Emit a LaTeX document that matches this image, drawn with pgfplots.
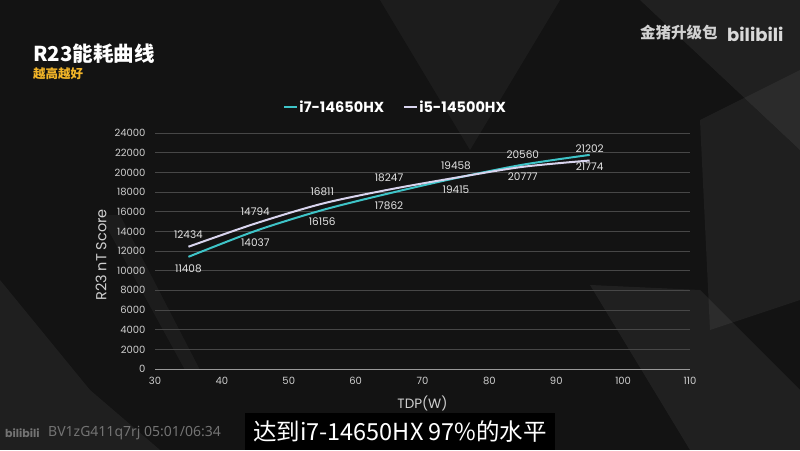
\documentclass[border=0pt]{standalone}
\usepackage{fontspec}
\usepackage{pgfplots}
\pgfplotsset{compat=1.18}
\setmainfont{Poppins}
\newfontfamily\cjk{Noto Sans CJK SC}
\newfontfamily\pop{Poppins}
\newfontfamily\ui{Noto Sans}
\definecolor{bg}{HTML}{131313}
\definecolor{cyanl}{RGB}{62,196,200}
\definecolor{lav}{RGB}{216,212,238}
\definecolor{gridc}{HTML}{474747}
\definecolor{tickc}{HTML}{CFCFCF}
\definecolor{yel}{RGB}{242,180,40}
\definecolor{labc}{HTML}{E4E4E4}
\begin{document}
\begin{tikzpicture}[x=1pt,y=1pt]
% background
\fill[bg] (0,0) rectangle (800,450);
\fill[white,opacity=0.05] (0,0) -- (0,170) -- (90,60) -- (160,0) -- cycle;
\fill[white,opacity=0.04] (100,235) -- (185,80) -- (200,80) -- (120,235) -- cycle;
\fill[white,opacity=0.06] (640,450) -- (800,450) -- (800,300) -- cycle;
\fill[white,opacity=0.05] (700,330) -- (800,380) -- (800,150) -- (710,120) -- cycle;
\fill[white,opacity=0.06] (590,165) -- (700,160) -- (800,60) -- (800,0) -- (690,0) -- cycle;
\fill[white,opacity=0.04] (380,450) -- (560,450) -- (470,300) -- cycle;
% title
\node[anchor=west, inner sep=0, text=white] at (33,396) {\cjk\bfseries\fontsize{20.5}{22}\selectfont R23能耗曲线};
\node[anchor=west, inner sep=0, text=yel] at (33,376) {\cjk\bfseries\fontsize{12.5}{14}\selectfont 越高越好};
% watermark
\node[anchor=west, inner sep=0, text=white!82!black] at (640,417) {\cjk\bfseries\fontsize{15.5}{17}\selectfont 金猪升级包};
\node[anchor=west, inner sep=0, text=white!85!black] at (727,416) {\pop\bfseries\fontsize{18}{20}\selectfont bilibili};
\node[anchor=west, inner sep=0, text=white!45!black] at (5,17) {\pop\bfseries\fontsize{11}{13}\selectfont bilibili};
\node[anchor=west, inner sep=0, text=white!45!black] at (48,17) {\ui\fontsize{14}{16}\selectfont BV1zG411q7rj 05:01/06:34};
% subtitle
\fill[black] (245,0) rectangle (555,37);
\node[anchor=center, inner sep=0, text=white] at (400,18) {\cjk\fontsize{23.5}{25}\selectfont 达到i7-14650HX 97\%的水平};
\begin{axis}[
  at={(155pt,81pt)}, anchor=south west,
  scale only axis, width=535pt, height=236pt,
  xmin=30, xmax=110, ymin=0, ymax=24000,
  xtick={30,40,...,110}, ytick={0,2000,...,24000},
  scaled y ticks=false,
  axis x line*=bottom, axis y line*=left,
  x axis line style={draw=white!60!black, line width=0.8pt, -},
  y axis line style={draw=none},
  ymajorgrids, major grid style={gridc, line width=0.6pt},
  major tick length=0,
  /pgf/number format/1000 sep={},
  /pgf/number format/assume math mode=true,
  ticklabel style={font=\pop\fontsize{10}{12}\selectfont, text=tickc},
  yticklabel style={xshift=-6pt},
  xticklabel style={yshift=-5pt},
  xlabel={TDP(W)},
  ylabel={R23 nT Score},
  xlabel style={at={(axis description cs:0.5,0)}, anchor=center, yshift=-34pt, font=\pop\fontsize{13.5}{15}\selectfont, text=tickc},
  ylabel style={at={(axis description cs:0,0.5)}, anchor=center, yshift=54pt, xshift=-4pt, font=\pop\fontsize{14.5}{16}\selectfont, text=tickc},
  legend columns=2,
  legend style={at={(0.449,1.11)}, anchor=center, draw=none, fill=none, text=white,
    font=\pop\bfseries\fontsize{14.5}{16}\selectfont,
    /tikz/every even column/.append style={column sep=18pt},
    nodes={inner sep=1pt}},
  legend image code/.code={\draw[#1, line width=2pt] (0pt,0pt) -- (13pt,0pt);},
  clip=false,
]
\addplot[cyanl, line width=2pt, smooth,
  nodes near coords,
  every node near coord/.style={anchor=center, yshift=-12pt, text=labc, font=\pop\fontsize{10.5}{12}\selectfont}]
  coordinates {(35,11408) (45,14037) (55,16156) (65,17862) (75,19415) (85,20777) (95,21774)};
\addlegendentry{i7-14650HX}
\addplot[lav, line width=2pt, smooth,
  nodes near coords,
  every node near coord/.style={anchor=center, yshift=12pt, text=labc, font=\pop\fontsize{10.5}{12}\selectfont}]
  coordinates {(35,12434) (45,14794) (55,16811) (65,18247) (75,19458) (85,20560) (95,21202)};
\addlegendentry{i5-14500HX}
\end{axis}
\end{tikzpicture}
\end{document}
